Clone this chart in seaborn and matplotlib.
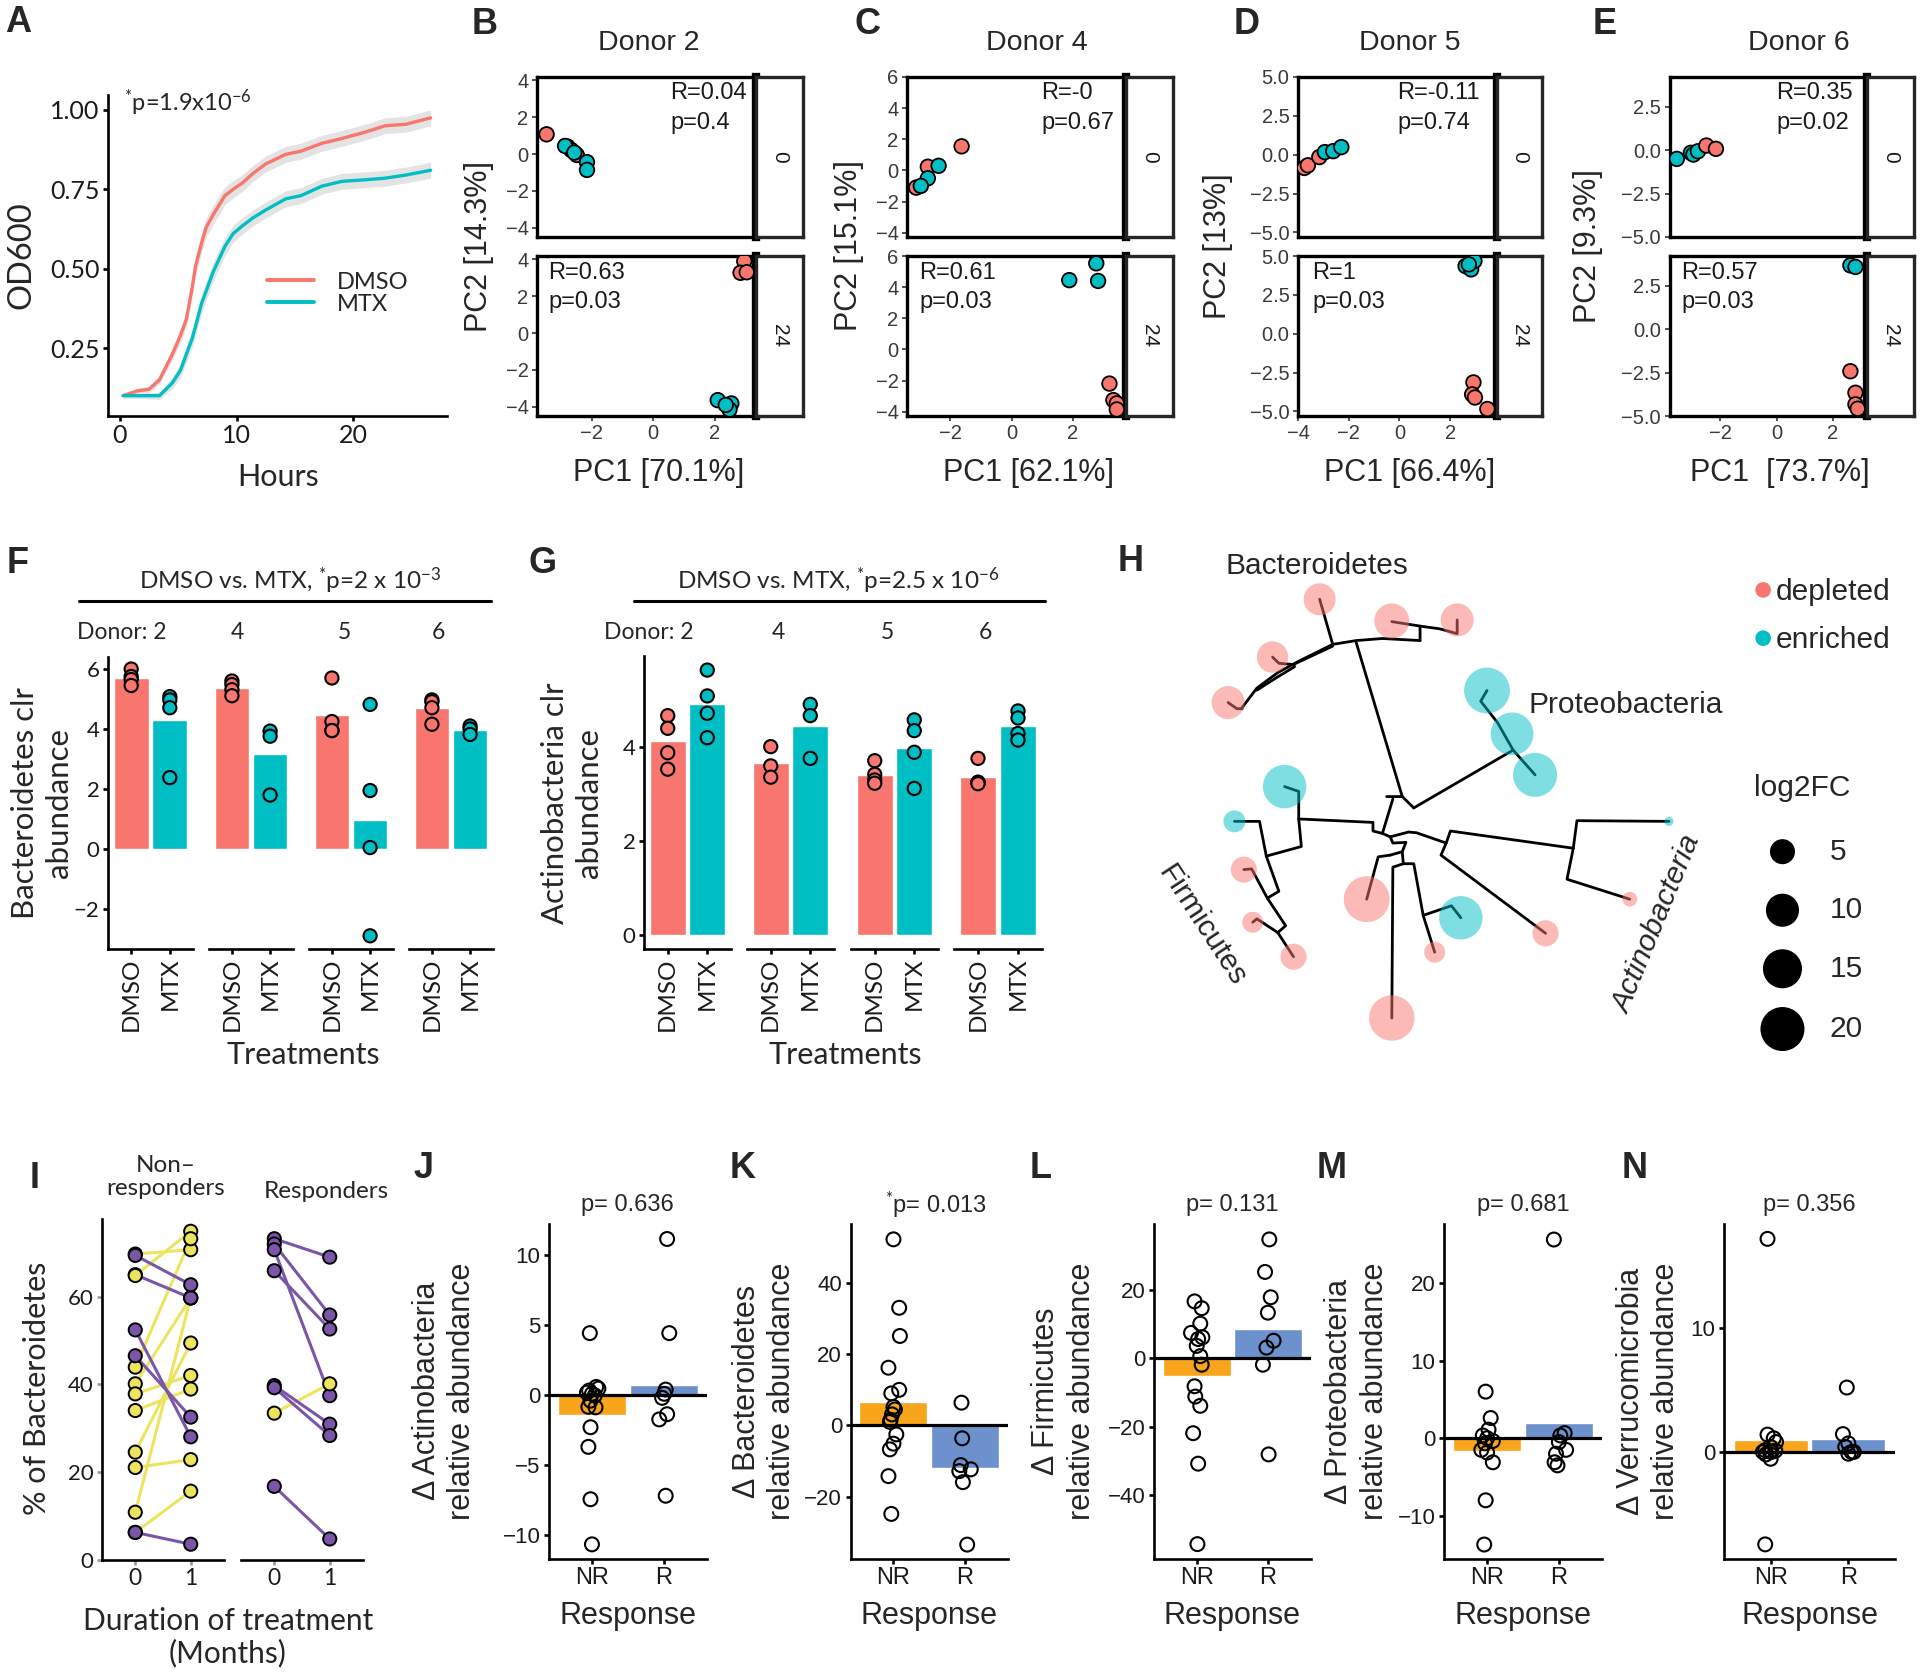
import numpy as np
import pandas as pd
import seaborn as sns
import matplotlib
matplotlib.use('Agg')
import matplotlib.pyplot as plt
from matplotlib.lines import Line2D
from matplotlib.ticker import FuncFormatter

# ---------------- data ----------------
# A: growth curves (OD600 vs hours)
hours = [0.3, 1.5, 2.5, 3.4, 4.5, 5.2, 5.7, 6.2, 6.5, 7.0, 7.4, 8.0, 8.5, 9.0, 9.7,
         10.5, 11.4, 12.5, 14.2, 15.5, 17.3, 19.0, 21.0, 22.7, 24.5, 26.6]
od_dmso = [0.10, 0.115, 0.12, 0.15, 0.23, 0.29, 0.34, 0.44, 0.51, 0.58, 0.63, 0.67, 0.70, 0.73, 0.75,
           0.77, 0.80, 0.83, 0.86, 0.87, 0.895, 0.91, 0.93, 0.95, 0.955, 0.975]
od_mtx = [0.10, 0.10, 0.10, 0.10, 0.14, 0.18, 0.23, 0.28, 0.32, 0.39, 0.43, 0.49, 0.53, 0.57, 0.61,
          0.635, 0.66, 0.685, 0.72, 0.73, 0.76, 0.775, 0.78, 0.785, 0.795, 0.81]
od_se = [0.008, 0.008, 0.01, 0.012, 0.018, 0.022, 0.025, 0.028, 0.03, 0.03, 0.03, 0.03, 0.03, 0.028, 0.027,
         0.026, 0.025, 0.025, 0.025, 0.025, 0.025, 0.025, 0.025, 0.025, 0.025, 0.025]

# B-E: PCA per donor (time 0 / 24)
d2_pc1 = [-3.46, -2.78, -2.66, -2.48, -2.86, -2.56, -2.15, -2.15, 2.95, 2.83, 3.03, 2.09, 2.53, 2.47, 2.35]
d2_pc2 = [1.07, 0.40, 0.22, -0.05, 0.44, 0.08, -0.44, -0.86, 3.90, 3.27, 3.30, -3.64, -3.82, -4.15, -3.90]
d2_trt = ['DMSO'] * 4 + ['MTX'] * 4 + ['DMSO'] * 3 + ['MTX'] * 4
d2_time = [0] * 8 + [24] * 7

d4_pc1 = [-1.63, -2.73, -3.11, -2.38, -2.73, -2.96, 3.19, 3.32, 3.43, 3.43, 1.88, 2.76, 2.82]
d4_pc2 = [1.55, 0.24, -1.10, 0.30, -0.50, -0.99, -2.19, -3.25, -3.46, -3.85, 4.45, 5.53, 4.40]
d4_trt = ['DMSO'] * 3 + ['MTX'] * 3 + ['DMSO'] * 4 + ['MTX'] * 3
d4_time = [0] * 6 + [24] * 7

d5_pc1 = [-3.75, -3.61, -3.16, -2.94, -2.61, -2.29, 2.92, 2.87, 2.98, 3.47, 2.61, 2.83, 2.96, 2.74]
d5_pc2 = [-0.85, -0.68, -0.15, 0.17, 0.23, 0.49, -3.13, -3.90, -4.10, -4.84, 4.35, 4.14, 4.68, 4.46]
d5_trt = ['DMSO'] * 3 + ['MTX'] * 3 + ['DMSO'] * 4 + ['MTX'] * 4
d5_time = [0] * 6 + [24] * 8

d6_pc1 = [-3.55, -3.05, -2.96, -2.80, -2.50, -2.16, 2.62, 2.80, 2.80, 2.88, 2.62, 2.80]
d6_pc2 = [-0.50, -0.15, -0.25, -0.06, 0.27, 0.08, -2.42, -3.66, -4.33, -4.58, 3.68, 3.59]
d6_trt = ['MTX'] * 4 + ['DMSO'] * 2 + ['DMSO'] * 4 + ['MTX'] * 2
d6_time = [0] * 6 + [24] * 6

donor_titles = ['Donor 2', 'Donor 4', 'Donor 5', 'Donor 6']
pc1_labels = ['PC1 [70.1%]', 'PC1 [62.1%]', 'PC1 [66.4%]', 'PC1  [73.7%]']
pc2_labels = ['PC2 [14.3%]', 'PC2 [15.1%]', 'PC2 [13%]', 'PC2 [9.3%]']
stats_t0 = [('R=0.04', 'p=0.4'), ('R=-0', 'p=0.67'), ('R=-0.11', 'p=0.74'), ('R=0.35', 'p=0.02')]
stats_t24 = [('R=0.63', 'p=0.03'), ('R=0.61', 'p=0.03'), ('R=1', 'p=0.03'), ('R=0.57', 'p=0.03')]

# F: Bacteroidetes clr, G: Actinobacteria clr (donors 2, 4, 5, 6)
donors = ['2', '4', '5', '6']
bact_dmso = [[6.0, 5.75, 5.65, 5.45], [5.6, 5.48, 5.31, 5.11], [5.7, 4.25, 3.95, 3.95], [4.97, 4.91, 4.71, 4.16]]
bact_mtx = [[5.08, 4.97, 4.71, 2.38], [3.93, 3.76, 1.80], [4.82, 1.95, 0.05, -2.89], [4.10, 4.00, 3.82]]
actino_dmso = [[4.67, 4.40, 3.88, 3.53], [4.01, 3.60, 3.36], [3.71, 3.42, 3.30, 3.23], [3.76, 3.25, 3.25, 3.22]]
actino_mtx = [[5.64, 5.09, 4.72, 4.20], [4.91, 4.67, 3.76], [4.58, 4.35, 3.89, 3.12], [4.77, 4.62, 4.29, 4.15]]

# H: tree tips (layout units), direction and log2FC
tip_x = [420, 558, 683, 330, 245, 740, 788, 832, 353, 257, 275, 292, 370, 510, 558, 690, 640, 852, 1088, 1013]
tip_y = [172, 235, 232, 340, 472, 437, 563, 682, 716, 817, 957, 1110, 1210, 1043, 1388, 1097, 1197, 1142, 817, 1043]
tip_dir = ['depleted'] * 5 + ['enriched'] * 3 + ['enriched', 'enriched', 'depleted', 'depleted', 'depleted',
                                                'depleted', 'depleted', 'enriched', 'depleted', 'depleted',
                                                'enriched', 'depleted']
tip_fc = [9.2, 11.5, 9.9, 8.8, 9.9, 22.0, 18.7, 20.0, 19.4, 3.6, 5.5, 3.2, 5.5, 22.0, 21.5, 19.4, 3.2, 5.5, 1.0, 1.5]
tree_edges = [
    [(578, 745), (490, 298)],
    [(270, 490), (300, 430), (340, 385), (380, 352), (445, 303), (490, 292), (540, 286), (612, 292)],
    [(300, 436), (335, 402), (372, 368)],
    [(372, 360), (445, 308)],
    [(445, 303), (420, 172)],
    [(612, 292), (612, 250), (558, 237)],
    [(612, 250), (650, 258), (683, 272), (683, 232)],
    [(372, 362), (342, 358), (330, 340)],
    [(272, 490), (262, 490), (245, 472)],
    [(548, 745), (578, 745), (600, 778)],
    [(600, 778), (790, 610)],
    [(790, 610), (760, 530), (728, 468), (740, 437)],
    [(790, 610), (832, 682)],
    [(560, 752), (540, 852), (555, 862)],
    [(540, 852), (522, 845), (522, 820), (380, 810)],
    [(555, 862), (590, 848), (605, 850), (662, 880), (670, 845), (905, 895)],
    [(662, 880), (652, 915), (852, 1142)],
    [(905, 895), (912, 815), (1088, 817)],
    [(905, 895), (893, 985), (1013, 1043)],
    [(555, 862), (560, 880), (585, 878), (578, 905), (555, 915)],
    [(555, 915), (532, 920), (510, 1043)],
    [(578, 905), (580, 940), (560, 950), (558, 1388)],
    [(580, 940), (600, 940), (618, 1090), (640, 1197)],
    [(618, 1090), (672, 1062), (690, 1097)],
    [(380, 810), (380, 730), (353, 716)],
    [(380, 810), (385, 890), (318, 918)],
    [(257, 817), (305, 817), (318, 918)],
    [(318, 918), (342, 1020), (320, 1040)],
    [(320, 1040), (290, 955), (275, 957)],
    [(320, 1040), (355, 1120), (340, 1140)],
    [(340, 1140), (300, 1100), (292, 1110)],
    [(340, 1140), (370, 1210)],
]
fc_legend = [5, 10, 15, 20]

# I: % Bacteroidetes at month 0 and 1 (pairs)
nr_m0 = [40.1, 10.8, 65.0, 69.7, 64.8, 43.9, 37.8, 34.0, 24.5, 21.0, 6.2, 69.4, 52.4, 46.5, 6.2]
nr_m1 = [59.7, 59.7, 59.7, 70.7, 74.9, 73.2, 42.0, 38.9, 49.4, 22.8, 15.6, 62.7, 28.0, 32.5, 3.5]
nr_dir = ['up', 'up', 'down', 'up', 'up', 'up', 'up', 'up', 'up', 'up', 'up', 'down', 'down', 'down', 'down']
r_m0 = [73.2, 72.0, 70.7, 65.9, 39.7, 39.2, 16.7, 33.4]
r_m1 = [69.0, 55.8, 37.4, 52.6, 30.9, 28.3, 4.7, 40.1]
r_dir = ['down'] * 7 + ['up']

# J-N: change in relative abundance, NR vs R
act_nr = [4.4, 0.56, 0.44, 0.3, 0.15, 0.07, -0.05, -0.42, -0.86, -0.9, -2.32, -3.72, -7.46, -10.68]
act_r = [11.12, 4.4, 0.37, 0.07, -0.22, -1.39, -1.76, -7.21]
bac_nr = [52.2, 33.0, 25.1, 16.2, 10.0, 9.0, 5.2, 4.5, 3.1, 1.6, 1.0, -2.5, -5.1, -6.7, -14.2, -24.8]
bac_r = [6.4, -3.6, -11.1, -12.3, -12.8, -15.9, -33.4]
fir_nr = [16.6, 14.6, 10.1, 7.4, 6.1, 5.6, 3.6, 0.6, -1.9, -8.2, -11.2, -13.9, -21.9, -30.8, -54.3]
fir_r = [34.7, 25.2, 17.8, 13.3, 5.1, 3.1, -1.9, -28.1]
pro_nr = [6.0, 2.6, 1.1, 0.35, 0.0, -0.35, -0.66, -1.5, -1.85, -3.1, -8.0, -13.7]
pro_r = [25.6, 0.66, 0.35, -0.5, -1.5, -2.0, -3.1, -3.5]
ver_nr = [17.2, 1.4, 1.1, 0.8, 0.4, 0.14, 0.1, 0.05, 0.0, 0.0, -0.2, -0.55, -7.46]
ver_r = [5.2, 1.44, 0.69, 0.41, 0.0, 0.0, -0.14]
# horizontal jitter (category units)
act_nr_off = [-0.03, 0.06, 0.09, -0.04, -0.07, 0.0, 0.04, -0.02, -0.05, 0.05, -0.02, -0.05, -0.02, 0.0]
act_r_off = [0.05, 0.08, 0.03, 0.01, -0.02, 0.05, -0.06, 0.03]
bac_nr_off = [0, 0.08, 0.09, -0.07, 0.08, -0.03, 0, 0.02, -0.02, -0.04, -0.05, 0.04, 0, -0.05, -0.07, -0.03]
bac_r_off = [-0.05, -0.04, -0.06, 0.08, -0.08, -0.03, 0.03]
fir_nr_off = [-0.03, 0.07, 0.05, -0.08, 0.08, 0.02, 0, 0.05, 0.07, -0.03, -0.02, 0.05, -0.05, 0.02, 0.01]
fir_r_off = [0.02, -0.04, 0.04, 0, 0.08, -0.02, -0.07, 0.01]
pro_nr_off = [-0.02, 0.05, 0.02, -0.06, 0, 0.08, -0.03, -0.08, 0, 0.08, -0.02, -0.04]
pro_r_off = [-0.07, 0.08, 0.02, 0, 0.1, -0.04, -0.06, -0.02]
ver_nr_off = [-0.04, -0.04, 0.04, 0.07, 0, -0.07, 0.06, -0.01, -0.1, 0.01, -0.06, 0, -0.07]
ver_r_off = [-0.02, -0.07, 0, -0.04, 0.04, 0.07, 0]
p_values = ['p= 0.636', r'$^{*}$p= 0.013', 'p= 0.131', 'p= 0.681', 'p= 0.356']
phyla = ['Actinobacteria', 'Bacteroidetes', 'Firmicutes', 'Proteobacteria', 'Verrucomicrobia']

# ---------------- style ----------------
TRT = ['DMSO', 'MTX']
TRT_PAL = {'DMSO': '#F8766D', 'MTX': '#00BFC4'}
DIR_PAL = {'depleted': '#F8766D', 'enriched': '#00BFC4'}
CHG_PAL = {'up': '#EDE45E', 'down': '#7B55A8'}
RESP_PAL = {'NR': '#F8A51C', 'R': '#6C91CD'}

sns.set_theme(style='ticks')
plt.rcParams['font.family'] = ['Lato', 'DejaVu Sans']
plt.rcParams['mathtext.fontset'] = 'custom'
plt.rcParams['mathtext.rm'] = 'Lato'
plt.rcParams['mathtext.it'] = 'Lato:italic'
plt.rcParams['mathtext.bf'] = 'Lato:bold'
SANS_B = ['Liberation Sans', 'DejaVu Sans']

W, H = 1920, 1677
fig = plt.figure(figsize=(W / 100, H / 100), dpi=100)


def px_axes(x0, y0, x1, y1):
    return fig.add_axes([x0 / W, 1 - y1 / H, (x1 - x0) / W, (y1 - y0) / H])


def ftext(x, y, s, **kw):
    kw.setdefault('ha', 'center')
    kw.setdefault('va', 'center')
    return fig.text(x / W, 1 - y / H, s, **kw)


def fline(x0, x1, y, lw=2.0):
    fig.add_artist(Line2D([x0 / W, x1 / W], [1 - y / H, 1 - y / H], color='black', lw=lw))


def style_ax(ax, lw=1.9, ticklen=3.6, size=15, tick_color='black', family=None):
    for sp in ax.spines.values():
        sp.set_linewidth(lw)
        sp.set_color('black')
    ax.tick_params(which='both', direction='out', length=ticklen, width=lw, labelsize=size,
                   color=tick_color, labelcolor='#1a1a1a', pad=2.5)
    ax.set_xlabel('')
    ax.set_ylabel('')
    if family is not None:
        for lab in ax.get_xticklabels() + ax.get_yticklabels():
            lab.set_fontfamily(family)


minus_fmt = FuncFormatter(lambda v, p: f'{v:.1f}'.replace('-', '\u2212'))

# panel letters
letters = [('A', 5, 8), ('B', 472, 10), ('C', 854, 10), ('D', 1234, 10), ('E', 1593, 10),
           ('F', 7, 549), ('G', 529, 549), ('H', 1118, 547), ('I', 30, 1164),
           ('J', 413, 1154), ('K', 730, 1154), ('L', 1030, 1154), ('M', 1317, 1154), ('N', 1622, 1154)]
for lab, lx, ly in letters:
    ftext(lx, ly - 3, lab, ha='left', va='top', fontsize=26, fontweight='bold', fontfamily=SANS_B)

# ---------------- A ----------------
ax = px_axes(108, 95, 447, 416)
n = len(hours)
df_a = pd.DataFrame({'hours': hours * 2, 'od': od_dmso + od_mtx, 'se': od_se * 2,
                     'treatment': ['DMSO'] * n + ['MTX'] * n})
for trt, grp in df_a.groupby('treatment'):
    ax.fill_between(grp['hours'], grp['od'] - grp['se'], grp['od'] + grp['se'], color='#e3e3e3', lw=0)
sns.lineplot(data=df_a, x='hours', y='od', hue='treatment', hue_order=TRT, palette=TRT_PAL,
             lw=2.4, errorbar=None, ax=ax, legend=False)
ax.set_xlim(-1.0, 28.0)
ax.set_ylim(0.036, 1.047)
ax.set_xticks([0, 10, 20])
ax.set_yticks([0.25, 0.5, 0.75, 1.0])
ax.set_yticklabels(['0.25', '0.50', '0.75', '1.00'])
sns.despine(ax=ax)
style_ax(ax, size=18)
handles = [Line2D([], [], color=TRT_PAL[t], lw=2.8) for t in TRT]
ax.legend(handles, TRT, loc='upper left', bbox_to_anchor=(0.469, 0.45), frameon=False, fontsize=17,
          handlelength=2.0, handletextpad=0.95, labelspacing=0.05, borderpad=0, borderaxespad=0)
ftext(124, 111, r'$^{*}$p=1.9x10$^{-6}$', ha='left', va='baseline', fontsize=17)
ftext(278, 477, 'Hours', fontsize=22)
ftext(22, 255, 'OD600', fontsize=23.5, rotation=90)

# ---------------- B-E ----------------
pc1_all = [d2_pc1, d4_pc1, d5_pc1, d6_pc1]
pc2_all = [d2_pc2, d4_pc2, d5_pc2, d6_pc2]
trt_all = [d2_trt, d4_trt, d5_trt, d6_trt]
time_all = [d2_time, d4_time, d5_time, d6_time]
lefts = [537, 907, 1298, 1669.5]
rights = [756, 1126, 1497, 1867]
strip_rights = [802.5, 1172.6, 1542, 1914]
title_xs = [649, 1037, 1410, 1799]
ylab_xs = [479, 849, 1218, 1588]
t0_txt_x = [670, 1041, 1397, 1776]
t24_txt_x = [548, 919, 1312, 1681]
xlims = [(-3.77, 3.33), (-3.41, 3.73), (-4.0, 3.85), (-3.81, 3.21)]
ylims = [(-4.5, 4.18), (-4.27, 5.95), (-5.29, 5.0), (-5.0, 4.22)]
yticks = [[-4, -2, 0, 2, 4], [-4, -2, 0, 2, 4, 6], [-5, -2.5, 0, 2.5, 5], [-5, -2.5, 0, 2.5]]
xticks = [[-2, 0, 2], [-2, 0, 2], [-4, -2, 0, 2], [-2, 0, 2]]

for k in range(4):
    df = pd.DataFrame({'pc1': pc1_all[k], 'pc2': pc2_all[k], 'trt': trt_all[k], 'time': time_all[k]})
    for row, (tval, ya, yb) in enumerate([(0, 77, 237), (24, 256, 416)]):
        ax = px_axes(lefts[k], ya, rights[k], yb)
        sub = df[df['time'] == tval]
        sns.scatterplot(data=sub, x='pc1', y='pc2', hue='trt', hue_order=TRT, palette=TRT_PAL, s=110,
                        edgecolor='black', linewidth=1.3, ax=ax, legend=False, zorder=3)
        ax.set_xlim(xlims[k])
        ax.set_ylim(ylims[k])
        ax.set_yticks(yticks[k])
        ax.set_xticks(xticks[k])
        if k >= 2:
            ax.yaxis.set_major_formatter(minus_fmt)
        style_ax(ax, lw=2.4, size=14.5, family=SANS_B)
        ax.spines['right'].set_linewidth(6)
        ax.tick_params(width=1.2, color='#333333', labelcolor='#3a3a3a', length=3.6)
        if row == 0:
            ax.tick_params(axis='x', bottom=False, labelbottom=False)
        sax = px_axes(rights[k], ya, strip_rights[k], yb)
        sax.set_xticks([])
        sax.set_yticks([])
        for sp in sax.spines.values():
            sp.set_linewidth(2.4)
        sax.text(0.5, 0.5, str(tval), rotation=-90, ha='center', va='center', transform=sax.transAxes,
                 fontsize=15, fontfamily=SANS_B, color='#1a1a1a')
    r0, p0 = stats_t0[k]
    ftext(t0_txt_x[k], 93, r0, ha='left', fontsize=17, fontfamily=SANS_B, color='#1a1a1a')
    ftext(t0_txt_x[k], 123, p0, ha='left', fontsize=17, fontfamily=SANS_B, color='#1a1a1a')
    r1, p1 = stats_t24[k]
    ftext(t24_txt_x[k], 273, r1, ha='left', fontsize=17, fontfamily=SANS_B, color='#1a1a1a')
    ftext(t24_txt_x[k], 302, p1, ha='left', fontsize=17, fontfamily=SANS_B, color='#1a1a1a')
    ftext(title_xs[k], 43, donor_titles[k], fontsize=20.5, fontfamily=SANS_B)
    ftext(ylab_xs[k], 246, pc2_labels[k], fontsize=22, rotation=90, fontfamily=SANS_B)
    ftext((lefts[k] + rights[k]) / 2 + 12, 473, pc1_labels[k], fontsize=22, fontfamily=SANS_B)


# ---------------- F / G ----------------
def clr_panel(facets, y0, y1, dmso_vals, mtx_vals, ylim, yt):
    for i, (xa, xb) in enumerate(facets):
        ax = px_axes(xa, y0, xb, y1)
        df = pd.DataFrame({'trt': ['DMSO'] * len(dmso_vals[i]) + ['MTX'] * len(mtx_vals[i]),
                           'val': dmso_vals[i] + mtx_vals[i]})
        sns.barplot(data=df, x='trt', y='val', hue='trt', order=TRT, hue_order=TRT, palette=TRT_PAL,
                    errorbar=None, width=0.9, saturation=1, ax=ax, legend=False)
        sns.stripplot(data=df, x='trt', y='val', hue='trt', order=TRT, hue_order=TRT, palette=TRT_PAL,
                      jitter=False, size=9.5, linewidth=1.5, edgecolor='black', ax=ax, legend=False,
                      zorder=3)
        ax.set_xlim(-0.6, 1.6)
        ax.set_ylim(ylim)
        ax.set_yticks(yt)
        ax.set_xticks([0, 1])
        ax.set_xticklabels(TRT, rotation=90)
        sns.despine(ax=ax, left=(i > 0))
        style_ax(ax, size=16)
        ax.tick_params(axis='x', labelsize=17.5)
        if i > 0:
            ax.tick_params(axis='y', left=False, labelleft=False)


clr_panel([(108, 193), (209, 293), (309, 393), (409, 493)], 657, 949, bact_dmso, bact_mtx, (-3.33, 6.4),
          [-2, 0, 2, 4, 6])
clr_panel([(644, 731), (747, 834), (851, 938), (954, 1042)], 656, 949, actino_dmso, actino_mtx, (-0.3, 5.94),
          [0, 2, 4])
ftext(290, 581, r'DMSO vs. MTX, $^{*}$p=2 x 10$^{-3}$', fontsize=17.5)
fline(79, 491, 601, lw=2.2)
ftext(838, 581, r'DMSO vs. MTX, $^{*}$p=2.5 x 10$^{-6}$', fontsize=17.5)
fline(634, 1045, 601, lw=2.2)
for (x, lab) in zip([122, 237, 344, 438], ['Donor: ' + donors[0]] + donors[1:]):
    ftext(x, 633, lab, fontsize=16.5)
for (x, lab) in zip([649, 778, 887, 985], ['Donor: ' + donors[0]] + donors[1:]):
    ftext(x, 633, lab, fontsize=16.5)
ftext(303, 1055, 'Treatments', fontsize=22)
ftext(845, 1055, 'Treatments', fontsize=22)
ftext(42, 803, 'Bacteroidetes clr\nabundance', fontsize=22.5, rotation=90, linespacing=1.25)
ftext(572, 803, 'Actinobacteria clr\nabundance', fontsize=22.5, rotation=90, linespacing=1.25)

# ---------------- H ----------------
ax = px_axes(1100, 540, 1920, 1080)


def fc_radius(v):
    return 4.5 + 18.4 * np.sqrt(max(v - 1.0, 0) / 21.0)


for edge in tree_edges:
    ex, ey = zip(*edge)
    ax.plot(ex, ey, color='black', lw=2.0, solid_joinstyle='round', zorder=2)
df_h = pd.DataFrame({'x': tip_x, 'y': tip_y, 'dir': tip_dir, 'fc': tip_fc})
df_h['s'] = [(1.44 * fc_radius(v)) ** 2 for v in df_h['fc']]
sns.scatterplot(data=df_h, x='x', y='y', hue='dir', palette=DIR_PAL, s=df_h['s'].values, alpha=0.5,
                linewidth=0, ax=ax, legend=False, zorder=3)
ax.set_xlim(0, 1568)
ax.set_ylim(1568, 0)
ax.axis('off')
hfs = 21.5
ax.text(415, 75, 'Bacteroidetes', ha='center', va='center', fontsize=hfs, fontfamily=SANS_B)
ax.text(820, 480, 'Proteobacteria', ha='left', va='center', fontsize=hfs, fontfamily=SANS_B)
ax.text(195, 1120, 'Firmicutes', ha='center', va='center', rotation=-57, rotation_mode='anchor',
        fontsize=hfs, fontfamily=SANS_B)
ax.text(1065, 1115, 'Actinobacteria', ha='center', va='center', rotation=67.6, rotation_mode='anchor',
        fontsize=hfs, style='italic', fontfamily=SANS_B)
# legends
ax.scatter([1268, 1268], [145, 285], s=(1.44 * 7.8) ** 2, c=[DIR_PAL['depleted'], DIR_PAL['enriched']],
           linewidth=0)
ax.text(1292, 150, 'depleted', ha='left', va='center', fontsize=hfs, fontfamily=SANS_B)
ax.text(1292, 290, 'enriched', ha='left', va='center', fontsize=hfs, fontfamily=SANS_B)
ax.text(1250, 720, 'log2FC', ha='left', va='center', fontsize=hfs, fontfamily=SANS_B)
leg_y = [905, 1075, 1245, 1420]
ax.scatter([1305] * 4, leg_y, s=[(1.44 * fc_radius(v)) ** 2 for v in fc_legend], c='black', linewidth=0)
for v, yy in zip(fc_legend, leg_y):
    ax.text(1395, yy, str(v), ha='left', va='center', fontsize=hfs, fontfamily=SANS_B)


# ---------------- I ----------------
def change_panel(x0, x1, m0, m1, dirs, first):
    ax = px_axes(x0, 1219, x1, 1560)
    rows = []
    for i, (a, b, d) in enumerate(zip(m0, m1, dirs)):
        rows.append({'pair': i, 'month': 0, 'pct': a, 'dir': d})
        rows.append({'pair': i, 'month': 1, 'pct': b, 'dir': d})
    df = pd.DataFrame(rows)
    sns.lineplot(data=df, x='month', y='pct', hue='dir', hue_order=['up', 'down'], units='pair',
                 estimator=None, palette=CHG_PAL, lw=2.2, sort=False, ax=ax, legend=False)
    sns.scatterplot(data=df, x='month', y='pct', hue='dir', palette=CHG_PAL, s=90, edgecolor='black',
                    linewidth=1.4, ax=ax, legend=False, zorder=3)
    ax.set_xlim(-0.6, 1.6)
    ax.set_ylim(-0.1, 77.7)
    ax.set_xticks([0, 1])
    ax.set_yticks([0, 20, 40, 60])
    sns.despine(ax=ax, left=not first)
    style_ax(ax, size=16.5, tick_color='#9a9a9a')
    ax.tick_params(axis='y', labelsize=16)
    if not first:
        ax.tick_params(axis='y', left=False, labelleft=False)


change_panel(102, 224, nr_m0, nr_m1, nr_dir, True)
change_panel(241, 363, r_m0, r_m1, r_dir, False)
ftext(166, 1177, 'Non\u2013\nresponders', fontsize=17.5, linespacing=1.1)
ftext(326, 1192, 'Responders', fontsize=17.5)
ftext(37, 1388, '% of Bacteroidetes', fontsize=22, rotation=90)
ftext(228, 1637, 'Duration of treatment\n(Months)', fontsize=21.5, linespacing=1.15)

# ---------------- J-N ----------------
resp_boxes = [(549, 706.5), (850.5, 1008), (1154, 1310.6), (1444, 1602), (1724, 1895)]
resp_ylims = [(-11.69, 12.19), (-37.3, 56.5), (-58.5, 39.2), (-15.5, 27.6), (-8.6, 18.4)]
resp_yticks = [[-10, -5, 0, 5, 10], [-20, 0, 20, 40], [-40, -20, 0, 20], [-10, 0, 10, 20], [0, 10]]
ylab_resp_x = [444.5, 764.5, 1064, 1357, 1648.5]
nr_all = [act_nr, bac_nr, fir_nr, pro_nr, ver_nr]
r_all = [act_r, bac_r, fir_r, pro_r, ver_r]
nr_off_all = [act_nr_off, bac_nr_off, fir_nr_off, pro_nr_off, ver_nr_off]
r_off_all = [act_r_off, bac_r_off, fir_r_off, pro_r_off, ver_r_off]

for k in range(5):
    x0, x1 = resp_boxes[k]
    ax = px_axes(x0, 1224, x1, 1558.5)
    df = pd.DataFrame({'resp': ['NR'] * len(nr_all[k]) + ['R'] * len(r_all[k]),
                       'val': nr_all[k] + r_all[k],
                       'xpos': [o for o in nr_off_all[k]] + [1 + o for o in r_off_all[k]]})
    sns.barplot(data=df, x='resp', y='val', hue='resp', order=['NR', 'R'], palette=RESP_PAL,
                errorbar=None, width=0.95, saturation=1, ax=ax, legend=False)
    ax.axhline(0, color='black', lw=2.3, zorder=3)
    ax.scatter(df['xpos'], df['val'], s=100, facecolors='none', edgecolors='black', linewidths=1.5, zorder=4)
    ax.set_xlim(-0.6, 1.6)
    ax.set_ylim(resp_ylims[k])
    ax.set_yticks(resp_yticks[k])
    ax.set_xticks([0, 1])
    ax.set_xticklabels(['NR', 'R'])
    sns.despine(ax=ax)
    style_ax(ax, size=16, family=SANS_B)
    ax.tick_params(axis='x', labelsize=17)
    cx = (x0 + x1) / 2
    ftext(cx + (6 if k == 1 else 0), 1205, p_values[k], fontsize=17, fontfamily=SANS_B)
    ftext(cx, 1616, 'Response', fontsize=22, fontfamily=SANS_B)
    ftext(ylab_resp_x[k], 1391, '\u0394 ' + phyla[k] + '\nrelative abundance', fontsize=22,
          rotation=90, linespacing=1.22, fontfamily=SANS_B)

fig.savefig('out.png', dpi=100)
